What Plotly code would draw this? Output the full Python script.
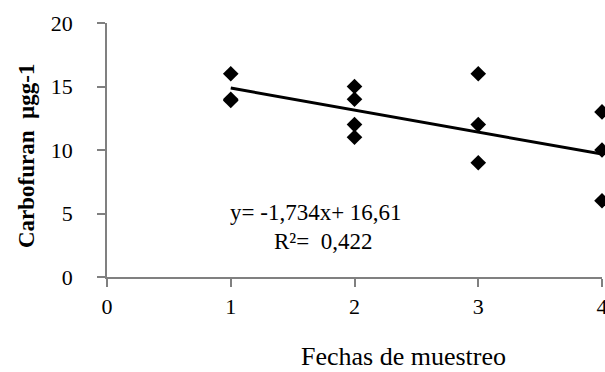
import plotly.graph_objects as go

# Sampling dates (x) and measured carbofuran concentration (y)
fechas = [1, 1, 1, 2, 2, 2, 2, 3, 3, 3, 4, 4, 4]
carbofuran = [16, 14, 13.9, 15, 14, 12, 11, 16, 12, 9, 13, 10, 6]

# Linear trend reported on the chart
pendiente = -1.734
intercepto = 16.61
r2 = 0.422
trend_x = [1, 4]
trend_y = [intercepto + pendiente * x for x in trend_x]

x_ticks = [0, 1, 2, 3, 4]
y_ticks = [0, 5, 10, 15, 20]

W, H = 605, 372
L, R, T, B = 107, 3, 23, 95
serif = "Liberation Serif"
tick_font = dict(family=serif, size=22, color="black")
eq_font = dict(family=serif, size=23, color="black")
title_font = dict(family=serif, size=26, color="black")


def px(x, y):
    """Pixel position in the page -> paper coordinates."""
    return (x - L) / (W - L - R), (H - B - y) / (H - T - B)


fig = go.Figure()
fig.add_trace(go.Scatter(
    x=fechas, y=carbofuran, mode="markers",
    marker=dict(symbol="diamond", size=12, color="black"),
    cliponaxis=False, showlegend=False,
))
fig.add_trace(go.Scatter(
    x=trend_x, y=trend_y, mode="lines",
    line=dict(color="black", width=3),
    cliponaxis=False, showlegend=False,
))

eq_text = f"y= {pendiente:.3f}x+ {intercepto:.2f}".replace(".", ",")
r2_text = f"R²=  {r2:.3f}".replace(".", ",")

xt = px(403, 356)
eq = px(228, 212)
rr = px(272, 241)
yt = px(26, 156)
annotations = [
    dict(x=xt[0], y=xt[1], xref="paper", yref="paper", text="Fechas de muestreo",
         showarrow=False, xanchor="center", yanchor="middle", font=title_font),
    dict(x=eq[0], y=eq[1], xref="paper", yref="paper", xanchor="left", yanchor="middle",
         text=eq_text, showarrow=False, font=eq_font),
    dict(x=rr[0], y=rr[1], xref="paper", yref="paper", xanchor="left", yanchor="middle",
         text=r2_text, showarrow=False, font=eq_font),
    dict(x=yt[0], y=yt[1], xref="paper", yref="paper",
         text="<b>Carbofuran  µgg-1</b>", textangle=-90, showarrow=False,
         xanchor="center", yanchor="middle",
         font=dict(family=serif, size=23, color="black")),
]

axis_style = dict(
    ticks="outside", ticklen=8, tickwidth=1.5, tickcolor="#808080",
    showline=True, linecolor="#808080", linewidth=1.5,
    showgrid=False, zeroline=False, fixedrange=True, automargin=False,
    ticklabeloverflow="allow", tickfont=tick_font,
)

fig.update_layout(
    width=W, height=H,
    margin=dict(l=L, r=R, t=T, b=B),
    paper_bgcolor="white", plot_bgcolor="white",
    font=tick_font,
    annotations=annotations,
    xaxis=dict(range=[0, 4], tickvals=x_ticks, ticklabelstandoff=1, **axis_style),
    yaxis=dict(range=[0, 20], tickvals=y_ticks, ticklabelstandoff=20, **axis_style),
)

fig.write_html("out.html")
